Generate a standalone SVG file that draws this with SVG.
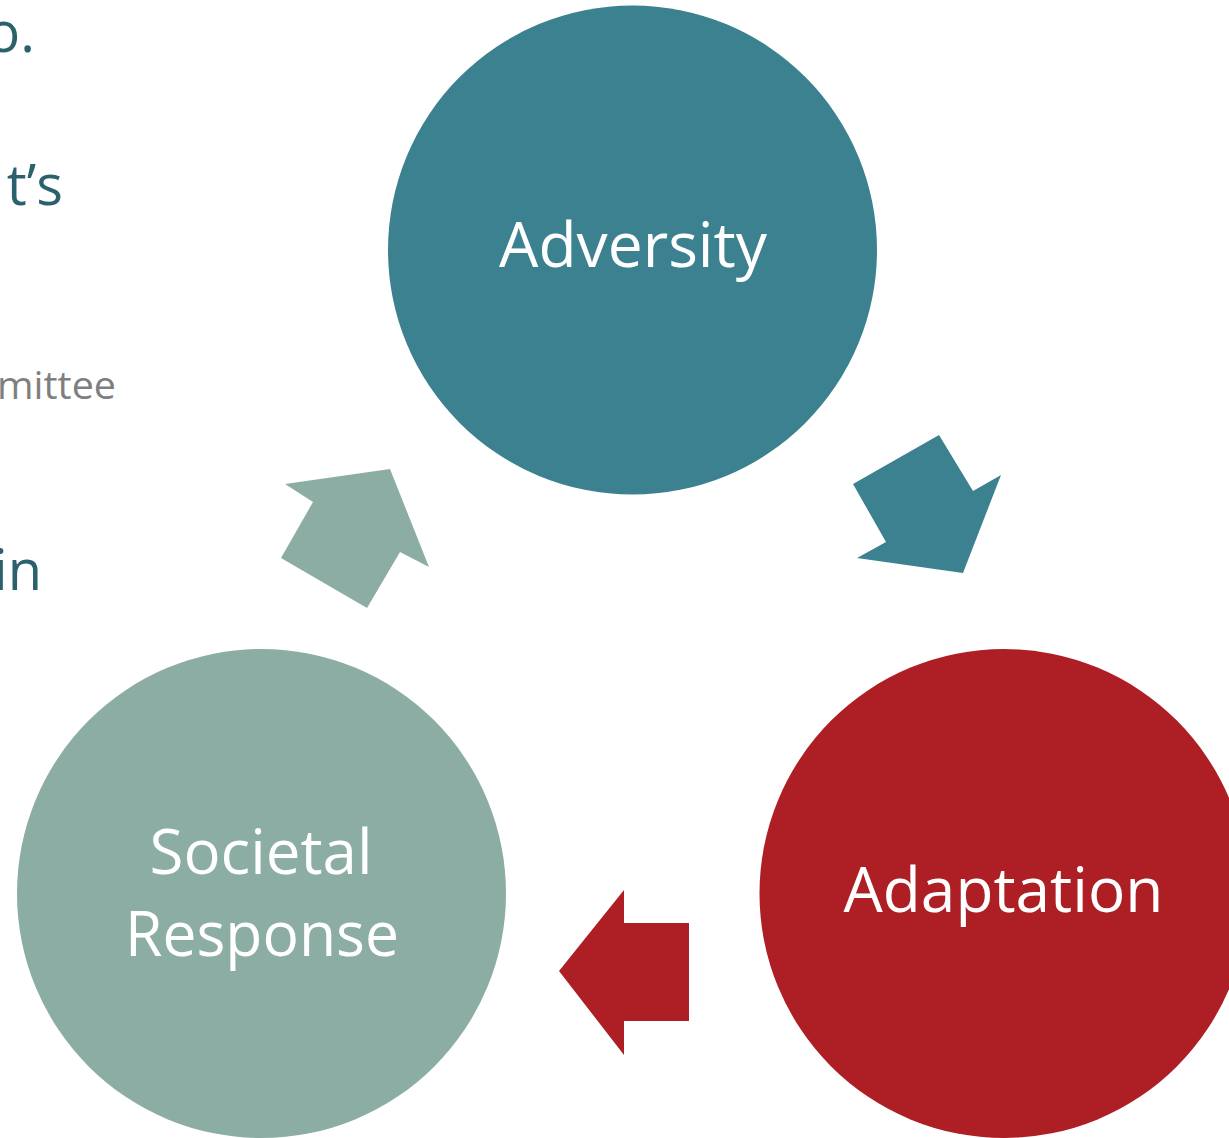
<svg xmlns="http://www.w3.org/2000/svg" width="1229" height="1138" viewBox="0 0 1229 1138">
  <style>
    .lbl { font-family: "Open Sans", "Noto Sans", "Liberation Sans", sans-serif; font-size: 63px; fill: #ffffff; text-anchor: middle; }
    .bg { font-family: "Open Sans", "Noto Sans", "Liberation Sans", sans-serif; fill: #2B616C; text-anchor: end; }
    .teal { fill: #3B8190; }
    .green { fill: #8CADA3; }
    .red { fill: #AD1F24; }
  </style>
  <rect width="1229" height="1138" fill="#ffffff"/>
  <g id="background-text">
    <text class="bg" x="35" y="52" font-size="56">o.</text>
    <text class="bg" x="63" y="205" font-size="56">t’s</text>
    <text class="bg" x="116" y="399" font-size="38" textLength="119" lengthAdjust="spacingAndGlyphs" style="fill:#7F7F7F">mittee</text>
    <text class="bg" x="42" y="590" font-size="56">in</text>
  </g>
  <g id="connectors">
    <polygon class="green" points="281,558 367,608 400,552 429,567 390,469 285,484 313,502"/>
    <polygon class="teal" points="939,435 853,484 886,542 857,558 963,573 1001,475 973,491"/>
    <polygon class="red" points="559,971 624,890 624,923 689,923 689,1021 624,1021 624,1055"/>
  </g>
  <g id="node-adversity">
    <circle class="teal" cx="632.5" cy="250" r="244.5"/>
    <text class="lbl" x="633" y="267" textLength="268" lengthAdjust="spacingAndGlyphs">Adversity</text>
  </g>
  <g id="node-adaptation">
    <circle class="red" cx="1004" cy="893.5" r="244.5"/>
    <text class="lbl" x="1003.5" y="912" textLength="320" lengthAdjust="spacingAndGlyphs">Adaptation</text>
  </g>
  <g id="node-societal-response">
    <circle class="green" cx="261.5" cy="893.5" r="244.5"/>
    <text class="lbl" x="261" y="874" textLength="223" lengthAdjust="spacingAndGlyphs">Societal</text>
    <text class="lbl" x="262" y="956" textLength="274" lengthAdjust="spacingAndGlyphs">Response</text>
  </g>
</svg>
